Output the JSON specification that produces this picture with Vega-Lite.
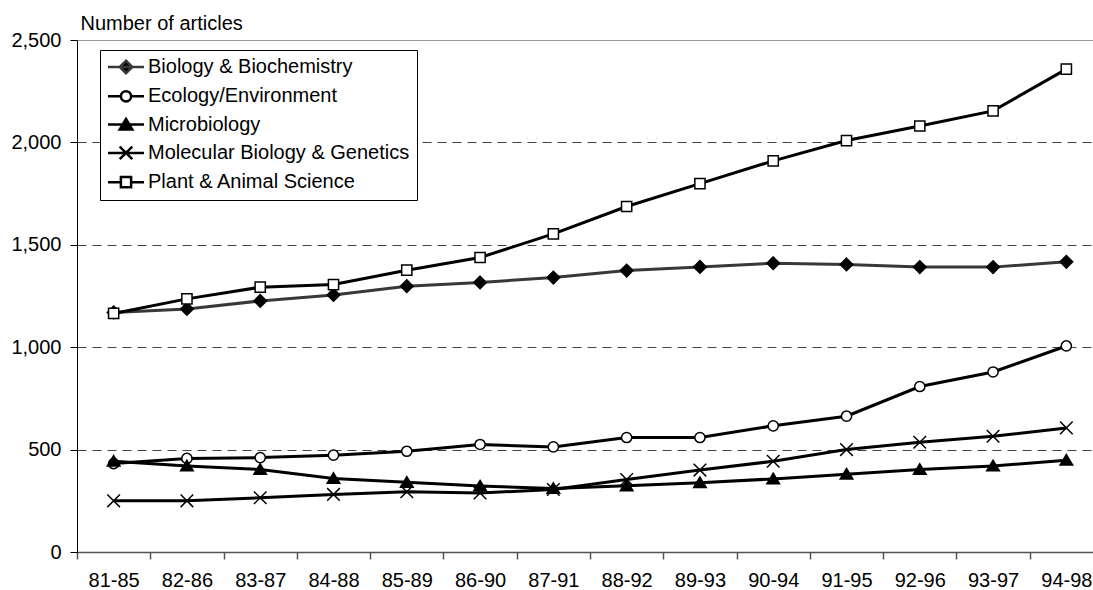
{
  "$schema": "https://vega.github.io/schema/vega-lite/v6.json",
  "autosize": {"type": "none"},
  "padding": {"left": 77, "top": 40, "right": -10, "bottom": 38},
  "width": 1026,
  "height": 512,
  "config": {
    "view": {"stroke": null},
    "font": "Liberation Sans",
    "legend": {
      "orient": "none",
      "legendX": 23,
      "legendY": 10,
      "strokeColor": "black",
      "fillColor": "white",
      "padding": 7,
      "rowPadding": 6.3,
      "labelFont": "Liberation Sans",
      "labelFontSize": 20,
      "labelColor": "black",
      "labelLimit": 400,
      "symbolSize": 144,
      "symbolOffset": 9,
      "labelOffset": 12,
      "symbolOpacity": 1,
      "symbolStrokeWidth": 2.5,
      "title": null
    }
  },
  "data": {
    "values": [
      {"period": "81-85", "series": "Biology & Biochemistry", "value": 1170},
      {"period": "82-86", "series": "Biology & Biochemistry", "value": 1187},
      {"period": "83-87", "series": "Biology & Biochemistry", "value": 1226},
      {"period": "84-88", "series": "Biology & Biochemistry", "value": 1255},
      {"period": "85-89", "series": "Biology & Biochemistry", "value": 1298},
      {"period": "86-90", "series": "Biology & Biochemistry", "value": 1316},
      {"period": "87-91", "series": "Biology & Biochemistry", "value": 1340},
      {"period": "88-92", "series": "Biology & Biochemistry", "value": 1374},
      {"period": "89-93", "series": "Biology & Biochemistry", "value": 1392},
      {"period": "90-94", "series": "Biology & Biochemistry", "value": 1410},
      {"period": "91-95", "series": "Biology & Biochemistry", "value": 1404},
      {"period": "92-96", "series": "Biology & Biochemistry", "value": 1391},
      {"period": "93-97", "series": "Biology & Biochemistry", "value": 1391},
      {"period": "94-98", "series": "Biology & Biochemistry", "value": 1417},
      {"period": "81-85", "series": "Ecology/Environment", "value": 432},
      {"period": "82-86", "series": "Ecology/Environment", "value": 457},
      {"period": "83-87", "series": "Ecology/Environment", "value": 461},
      {"period": "84-88", "series": "Ecology/Environment", "value": 473},
      {"period": "85-89", "series": "Ecology/Environment", "value": 492},
      {"period": "86-90", "series": "Ecology/Environment", "value": 525},
      {"period": "87-91", "series": "Ecology/Environment", "value": 513},
      {"period": "88-92", "series": "Ecology/Environment", "value": 559},
      {"period": "89-93", "series": "Ecology/Environment", "value": 559},
      {"period": "90-94", "series": "Ecology/Environment", "value": 616},
      {"period": "91-95", "series": "Ecology/Environment", "value": 663},
      {"period": "92-96", "series": "Ecology/Environment", "value": 808},
      {"period": "93-97", "series": "Ecology/Environment", "value": 879},
      {"period": "94-98", "series": "Ecology/Environment", "value": 1006},
      {"period": "81-85", "series": "Microbiology", "value": 443},
      {"period": "82-86", "series": "Microbiology", "value": 420},
      {"period": "83-87", "series": "Microbiology", "value": 403},
      {"period": "84-88", "series": "Microbiology", "value": 359},
      {"period": "85-89", "series": "Microbiology", "value": 340},
      {"period": "86-90", "series": "Microbiology", "value": 322},
      {"period": "87-91", "series": "Microbiology", "value": 310},
      {"period": "88-92", "series": "Microbiology", "value": 323},
      {"period": "89-93", "series": "Microbiology", "value": 338},
      {"period": "90-94", "series": "Microbiology", "value": 357},
      {"period": "91-95", "series": "Microbiology", "value": 380},
      {"period": "92-96", "series": "Microbiology", "value": 403},
      {"period": "93-97", "series": "Microbiology", "value": 420},
      {"period": "94-98", "series": "Microbiology", "value": 448},
      {"period": "81-85", "series": "Molecular Biology & Genetics", "value": 250},
      {"period": "82-86", "series": "Molecular Biology & Genetics", "value": 250},
      {"period": "83-87", "series": "Molecular Biology & Genetics", "value": 265},
      {"period": "84-88", "series": "Molecular Biology & Genetics", "value": 281},
      {"period": "85-89", "series": "Molecular Biology & Genetics", "value": 294},
      {"period": "86-90", "series": "Molecular Biology & Genetics", "value": 288},
      {"period": "87-91", "series": "Molecular Biology & Genetics", "value": 305},
      {"period": "88-92", "series": "Molecular Biology & Genetics", "value": 354},
      {"period": "89-93", "series": "Molecular Biology & Genetics", "value": 400},
      {"period": "90-94", "series": "Molecular Biology & Genetics", "value": 443},
      {"period": "91-95", "series": "Molecular Biology & Genetics", "value": 500},
      {"period": "92-96", "series": "Molecular Biology & Genetics", "value": 536},
      {"period": "93-97", "series": "Molecular Biology & Genetics", "value": 565},
      {"period": "94-98", "series": "Molecular Biology & Genetics", "value": 606},
      {"period": "81-85", "series": "Plant & Animal Science", "value": 1165},
      {"period": "82-86", "series": "Plant & Animal Science", "value": 1236},
      {"period": "83-87", "series": "Plant & Animal Science", "value": 1293},
      {"period": "84-88", "series": "Plant & Animal Science", "value": 1306},
      {"period": "85-89", "series": "Plant & Animal Science", "value": 1376},
      {"period": "86-90", "series": "Plant & Animal Science", "value": 1438},
      {"period": "87-91", "series": "Plant & Animal Science", "value": 1553},
      {"period": "88-92", "series": "Plant & Animal Science", "value": 1687},
      {"period": "89-93", "series": "Plant & Animal Science", "value": 1799},
      {"period": "90-94", "series": "Plant & Animal Science", "value": 1910},
      {"period": "91-95", "series": "Plant & Animal Science", "value": 2009},
      {"period": "92-96", "series": "Plant & Animal Science", "value": 2080},
      {"period": "93-97", "series": "Plant & Animal Science", "value": 2154},
      {"period": "94-98", "series": "Plant & Animal Science", "value": 2358}
    ]
  },
  "encoding": {
    "x": {
      "field": "period",
      "type": "ordinal",
      "sort": ["81-85","82-86","83-87","84-88","85-89","86-90","87-91","88-92","89-93","90-94","91-95","92-96","93-97","94-98"],
      "scale": {"type": "band", "paddingInner": 0, "paddingOuter": 0},
      "axis": {
        "title": null,
        "tickBand": "extent",
        "domainColor": "#555555",
        "domainWidth": 1.5,
        "tickColor": "#555555",
        "tickSize": 7,
        "tickWidth": 1.5,
        "labelAngle": 0,
        "labelFontSize": 20,
        "labelColor": "black",
        "labelPadding": 11,
        "grid": false
      }
    },
    "y": {
      "field": "value",
      "type": "quantitative",
      "scale": {"domain": [0, 2500], "nice": false},
      "axis": {
        "values": [0, 500, 1000, 1500, 2000, 2500],
        "format": ",d",
        "domainColor": "black",
        "tickColor": "black",
        "tickSize": 7,
        "labelFontSize": 20,
        "labelColor": "black",
        "labelPadding": 9,
        "grid": true,
        "gridColor": {"condition": {"test": "datum.value == 2500", "value": "#999999"}, "value": "#444444"},
        "gridDash": {"condition": {"test": "datum.value == 2500", "value": []}, "value": [9, 6]},
        "gridWidth": 1.2,
        "title": "Number of articles",
        "titleAngle": 0,
        "titleAlign": "left",
        "titleBaseline": "alphabetic",
        "titleX": 3,
        "titleY": -11,
        "titleFontSize": 20,
        "titleFontWeight": "normal",
        "titleColor": "black"
      }
    }
  },
  "layer": [
    {
      "mark": {"type": "line", "strokeWidth": 3},
      "encoding": {
        "stroke": {
          "field": "series",
          "type": "nominal",
          "scale": {
            "domain": ["Biology & Biochemistry","Ecology/Environment","Microbiology","Molecular Biology & Genetics","Plant & Animal Science"],
            "range": ["#383838","#000000","#000000","#000000","#000000"]
          },
          "legend": null
        }
      }
    },
    {
      "mark": {"type": "point", "size": 144, "stroke": "black", "strokeWidth": 1.5, "opacity": 1},
      "encoding": {
        "shape": {
          "field": "series",
          "type": "nominal",
          "scale": {
            "domain": ["Biology & Biochemistry","Ecology/Environment","Microbiology","Molecular Biology & Genetics","Plant & Animal Science"],
            "range": [
              "M0,-1.05L1.05,0L0,1.05L-1.05,0Z",
              "M-0.85,0A0.85,0.85 0 1,0 0.85,0A0.85,0.85 0 1,0 -0.85,0Z",
              "M0,-0.95L1.05,0.8L-1.05,0.8Z",
              "M-1.05,-1.05L1.05,1.05M-1.05,1.05L1.05,-1.05",
              "M-0.85,-0.85H0.85V0.85H-0.85Z"
            ]
          },
          "legend": null
        },
        "fill": {
          "field": "series",
          "type": "nominal",
          "scale": {
            "domain": ["Biology & Biochemistry","Ecology/Environment","Microbiology","Molecular Biology & Genetics","Plant & Animal Science"],
            "range": ["#000000","#ffffff","#000000","#000000","#ffffff"]
          },
          "legend": null
        }
      }
    },
    {
      "mark": {"type": "point", "size": 144, "strokeWidth": 2.5, "opacity": 0},
      "encoding": {
        "shape": {
          "field": "series",
          "type": "nominal",
          "scale": {
            "domain": ["Biology & Biochemistry","Ecology/Environment","Microbiology","Molecular Biology & Genetics","Plant & Animal Science"],
            "range": [
              "M-3,0H3M0,-1.05L1.05,0L0,1.05L-1.05,0Z",
              "M-3,0H-0.85M0.85,0H3M-0.85,0A0.85,0.85 0 1,0 0.85,0A0.85,0.85 0 1,0 -0.85,0Z",
              "M-3,0H3M0,-0.95L1.05,0.8L-1.05,0.8Z",
              "M-3,0H3M-1.05,-1.05L1.05,1.05M-1.05,1.05L1.05,-1.05",
              "M-3,0H-0.85M0.85,0H3M-0.85,-0.85H0.85V0.85H-0.85Z"
            ]
          },
          "legend": {"title": null}
        },
        "fill": {
          "field": "series",
          "type": "nominal",
          "scale": {
            "domain": ["Biology & Biochemistry","Ecology/Environment","Microbiology","Molecular Biology & Genetics","Plant & Animal Science"],
            "range": ["#000000","#ffffff","#000000","#000000","#ffffff"]
          },
          "legend": {"title": null}
        },
        "stroke": {
          "field": "series",
          "type": "nominal",
          "scale": {
            "domain": ["Biology & Biochemistry","Ecology/Environment","Microbiology","Molecular Biology & Genetics","Plant & Animal Science"],
            "range": ["#383838","#000000","#000000","#000000","#000000"]
          },
          "legend": {"title": null}
        }
      }
    }
  ],
  "resolve": {"scale": {"shape": "independent", "fill": "independent", "stroke": "independent"}}
}
